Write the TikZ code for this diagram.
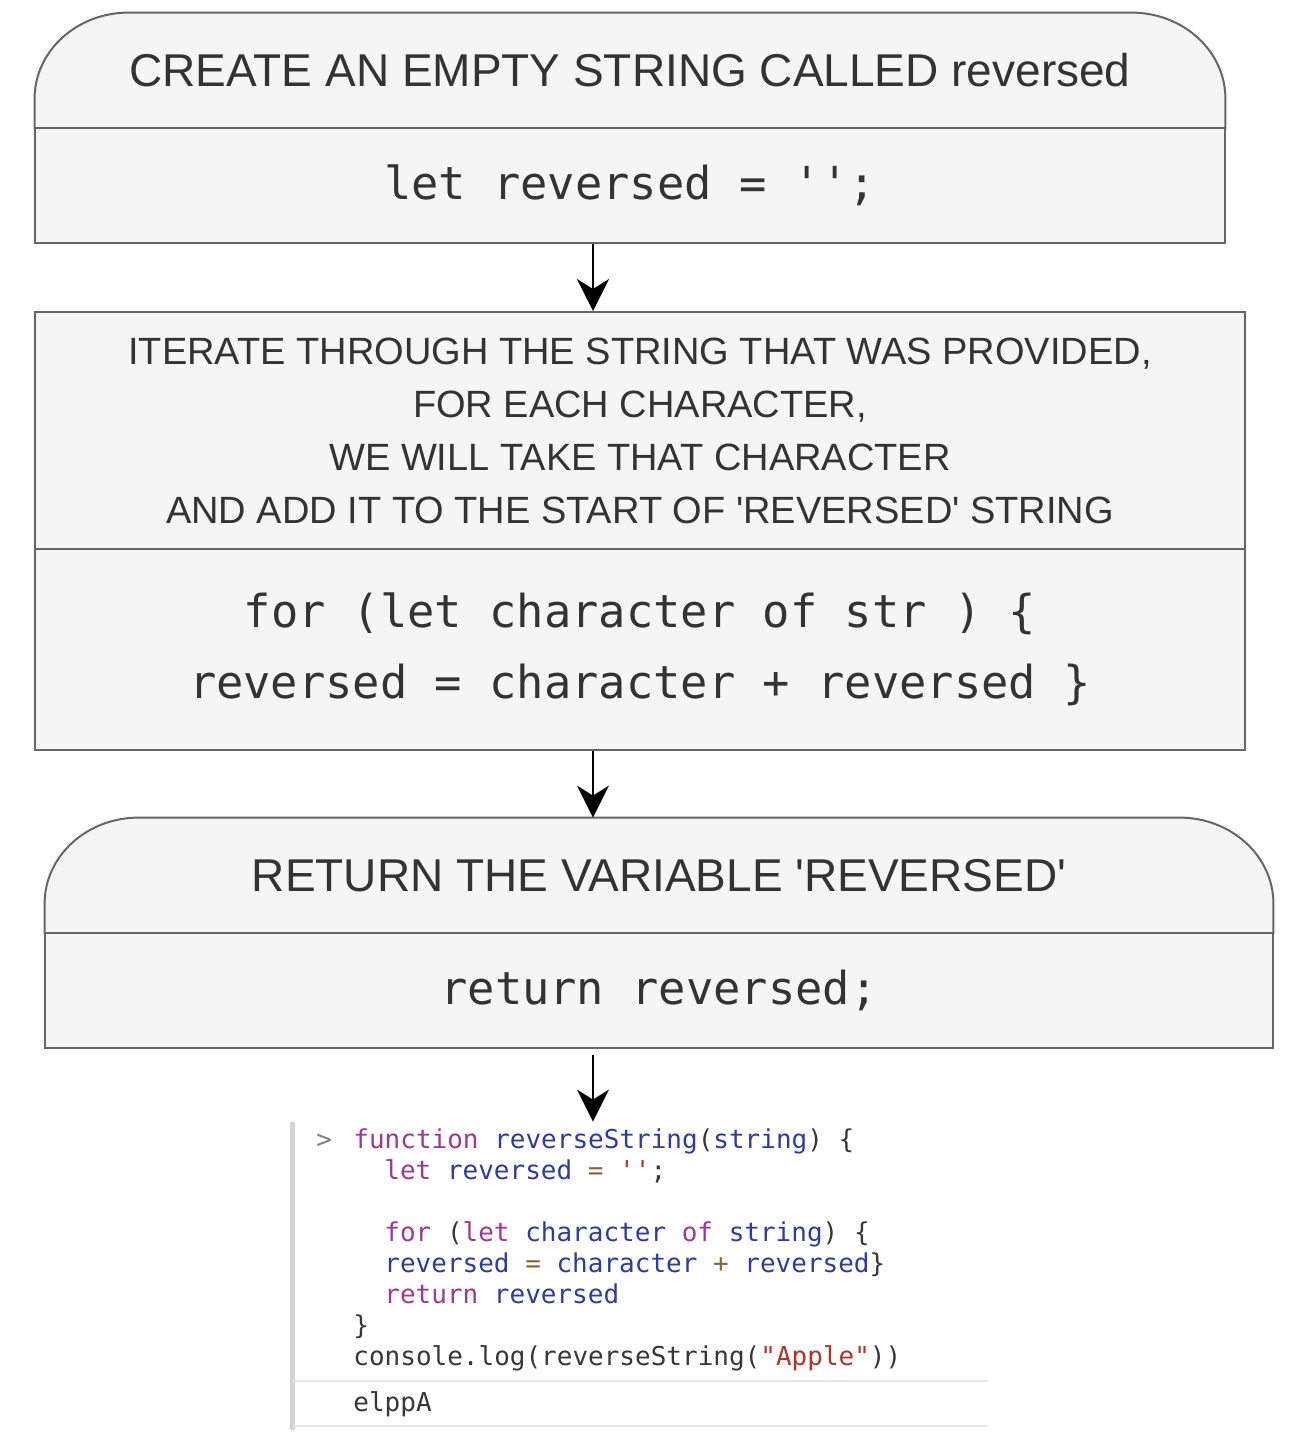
\documentclass[tikz,border=0pt]{standalone}
\usepackage{fontspec}
\setmainfont{Liberation Sans}[Ligatures=TeXOff]
\setmonofont{DejaVu Sans Mono}
\usetikzlibrary{arrows.meta,backgrounds}

\definecolor{boxfill}{HTML}{F5F5F5}
\definecolor{boxline}{HTML}{666666}
\definecolor{ink}{HTML}{333333}
\definecolor{kwc}{RGB}{160,55,150}
\definecolor{idc}{RGB}{45,60,165}
\definecolor{opc}{RGB}{140,100,50}
\definecolor{strc}{RGB}{180,50,40}
\definecolor{plainc}{RGB}{55,55,55}
\definecolor{rulec}{HTML}{E6E6E6}
\definecolor{barc}{HTML}{D4D4D4}

\newcommand{\kwd}[1]{\textcolor{kwc}{#1}}
\newcommand{\idn}[1]{\textcolor{idc}{#1}}
\newcommand{\opr}[1]{\textcolor{opc}{#1}}
\newcommand{\strg}[1]{\textcolor{strc}{#1}}

\begin{document}
\begin{tikzpicture}[x=0.5pt,y=-0.5pt,
    part/.style  ={inner sep=0pt, text=ink, align=center},
    title/.style ={part, font=\fontsize{23}{28}\selectfont},
    note/.style  ={part, font=\fontsize{19}{26.5}\selectfont},
    code/.style  ={part, font=\ttfamily\fontsize{22.7}{35.5}\selectfont},
    frame/.style ={draw=boxline, line width=1pt, fill=boxfill},
    shell/.style ={inner sep=0pt, anchor=base west, text=plainc,
                   font=\ttfamily\fontsize{13}{15.5}\selectfont},
    flow/.style  ={-{Stealth[length=16pt,width=16pt,inset=5pt]}, line width=1pt}]
  \useasboundingbox (0,0) rectangle (1292,1438);
  \coordinate (spine) at (593,0);

  % first step
  \node (h1) [title, minimum width=595pt, minimum height=57.5pt] at (630,70.5)
        {CREATE AN EMPTY STRING CALLED reversed};
  \node (b1) [code, frame, minimum width=595pt, minimum height=57.5pt] at (630,185.5)
        {let reversed = '';};

  % loop
  \node (h2) [note, frame, minimum width=605pt, minimum height=118.5pt] at (640,430.5)
        {ITERATE THROUGH THE STRING THAT WAS PROVIDED,\\
         FOR EACH CHARACTER,\\
         WE WILL TAKE THAT CHARACTER\\
         AND ADD IT TO THE START OF 'REVERSED' STRING};
  \node (b2) [code, frame, minimum width=605pt, minimum height=100.5pt] at (640,649.5)
        {for (let character of str ) \{\\
         reversed = character + reversed \}};

  % return
  \node (h3) [title, minimum width=614pt, minimum height=57.5pt] at (659,875.5)
        {RETURN THE VARIABLE 'REVERSED'};
  \node (b3) [code, frame, minimum width=614pt, minimum height=57.5pt] at (659,990.5)
        {return reversed;};

  \begin{pgfonlayer}{background}
    \foreach \h in {h1,h3}
      \draw [frame] (\h.south west) -- ([yshift=-43pt]\h.north west)
            arc [start angle=180, end angle=90, x radius=47pt, y radius=43pt]
            -- ([xshift=-47pt]\h.north east)
            arc [start angle=90, end angle=0, x radius=47pt, y radius=43pt]
            -- (\h.south east) -- cycle;
  \end{pgfonlayer}

  % console output
  \node (shot) [minimum width=349pt, minimum height=154pt, inner sep=0pt] at (639,1276) {};
  \fill [barc] (shot.north west) rectangle ([xshift=2.5pt]shot.south west);
  \draw [rulec, line width=0.8pt] (293,1381) -- (988,1381);
  \draw [rulec, line width=0.8pt] (293,1426) -- (988,1426);

  \node (gt) [shell, text=gray] at (316,1148) {>};
  \node (l1) [shell] at (353,1148) {\kwd{function} \idn{reverseString}(\idn{string}) \{};
  \node (l2) [shell] at (384,1179) {\kwd{let} \idn{reversed} \opr{=} \strg{''};};
  \node (l3) [shell] at (384,1241) {\kwd{for} (\kwd{let} \idn{character} \kwd{of} \idn{string}) \{};
  \node (l4) [shell] at (384,1272) {\idn{reversed} \opr{=} \idn{character} \opr{+} \idn{reversed}\}};
  \node (l5) [shell] at (384,1303) {\kwd{return} \idn{reversed}};
  \node (l6) [shell] at (353,1334) {\}};
  \node (l7) [shell] at (353,1365) {console.log(reverseString(\strg{"Apple"}))};
  \node (l8) [shell] at (353,1411) {elppA};

  \coordinate (gap) at (593,1055);
  \draw [flow] (b1.south -| spine) -- (h2.north -| spine);
  \draw [flow] (b2.south -| spine) -- (h3.north -| spine);
  \draw [flow] (gap) -- (shot.north -| spine);
\end{tikzpicture}
\end{document}
